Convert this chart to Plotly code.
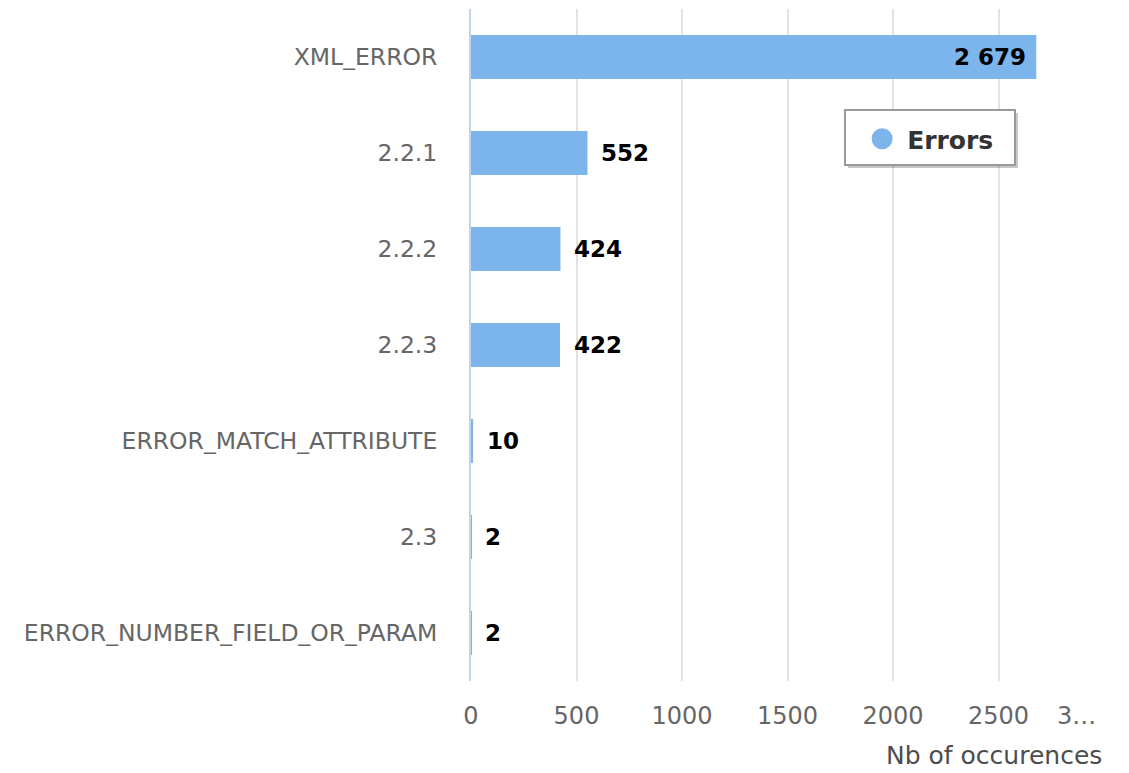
import plotly.graph_objects as go

categories = ["XML_ERROR", "2.2.1", "2.2.2", "2.2.3", "ERROR_MATCH_ATTRIBUTE", "2.3", "ERROR_NUMBER_FIELD_OR_PARAM"]
errors = [2679, 552, 424, 422, 10, 2, 2]
tick_vals = [0, 500, 1000, 1500, 2000, 2500, 3000]
tick_text = ["0", "500", "1000", "1500", "2000", "2500", "3…"]
series_name = "Errors"
x_title = "Nb of occurences"

BAR = "#7cb5ec"
FONT = "DejaVu Sans"
# page body has an 8px margin, so the figure is 8px smaller than the window
W, H = 1121, 765
L, R, T, B = 463, 25, 1, 92

fig = go.Figure()
fig.add_trace(go.Bar(
    x=errors, y=categories, orientation="h",
    marker=dict(color=BAR, line=dict(width=0)),
    showlegend=False, hoverinfo="x+y",
))
# legend entry with a circular symbol, as in the reference
fig.add_trace(go.Scatter(
    x=[None], y=[None], mode="markers", name=series_name,
    marker=dict(color=BAR, size=16, symbol="circle", line=dict(color=BAR, width=5)),
    showlegend=True,
))

# data labels
for i, v in enumerate(errors):
    inside = v > 2000
    fig.add_annotation(
        x=v, y=i, xref="x", yref="y",
        text="<b>" + f"{v:,}".replace(",", " ") + "</b>",
        showarrow=False,
        xanchor="right" if inside else "left",
        xshift=-8 if inside else 12,
        font=dict(family=FONT, size=23, color="#000000"),
    )

# last (truncated) tick label sits left of its gridline, as in the reference
fig.add_annotation(
    x=tick_vals[-1], y=0, xref="x", yref="paper",
    text=tick_text[-1], showarrow=False,
    xanchor="right", yanchor="middle", xshift=-6, yshift=-35,
    font=dict(family=FONT, size=24, color="#666666"),
)

fig.add_annotation(
    x=1, y=0, xref="paper", yref="paper", xanchor="right", yanchor="top",
    yshift=-58, text=x_title, showarrow=False,
    font=dict(family=FONT, size=25, color="#4d4d4d"),
)

# legend frame with drop shadow
fig.add_shape(type="rect", xref="paper", yref="paper",
              x0=0.5956, x1=0.8641, y0=0.7634, y1=0.8452,
              fillcolor="rgba(0,0,0,0.22)", line=dict(width=0), layer="above")
fig.add_shape(type="rect", xref="paper", yref="paper",
              x0=0.5908, x1=0.8594, y0=0.7679, y1=0.8497,
              fillcolor="white", line=dict(color="#9a9a9a", width=2), layer="above")

fig.update_layout(
    width=W, height=H,
    margin=dict(l=L, r=R, t=T, b=B, pad=0, autoexpand=False),
    paper_bgcolor="white", plot_bgcolor="white",
    bargap=0.54,
    font=dict(family=FONT, size=22, color="#666666"),
    legend=dict(
        x=0.61, y=0.8065, xanchor="left", yanchor="middle",
        bgcolor="rgba(0,0,0,0)", borderwidth=0, itemwidth=40,
        font=dict(family=FONT, size=25, color="#333333", weight="bold"),
    ),
    xaxis=dict(
        range=[0, 3000], tickvals=tick_vals,
        ticktext=tick_text[:-1] + [""],
        showgrid=True, gridcolor="#e2e2e2", gridwidth=1.5,
        zeroline=False, showline=False, ticks="",
        tickfont=dict(family=FONT, size=24, color="#666666"),
        ticklabelstandoff=18, automargin=False,
    ),
    yaxis=dict(
        type="category",
        categoryorder="array", categoryarray=categories,
        autorange="reversed", showgrid=False, zeroline=False,
        showline=True, linecolor="#c6d4ea", linewidth=2,
        ticks="", ticklabelstandoff=27, automargin=False,
        tickfont=dict(family=FONT, size=23.5, color="#666666"),
    ),
)

fig.write_html("out.html")
